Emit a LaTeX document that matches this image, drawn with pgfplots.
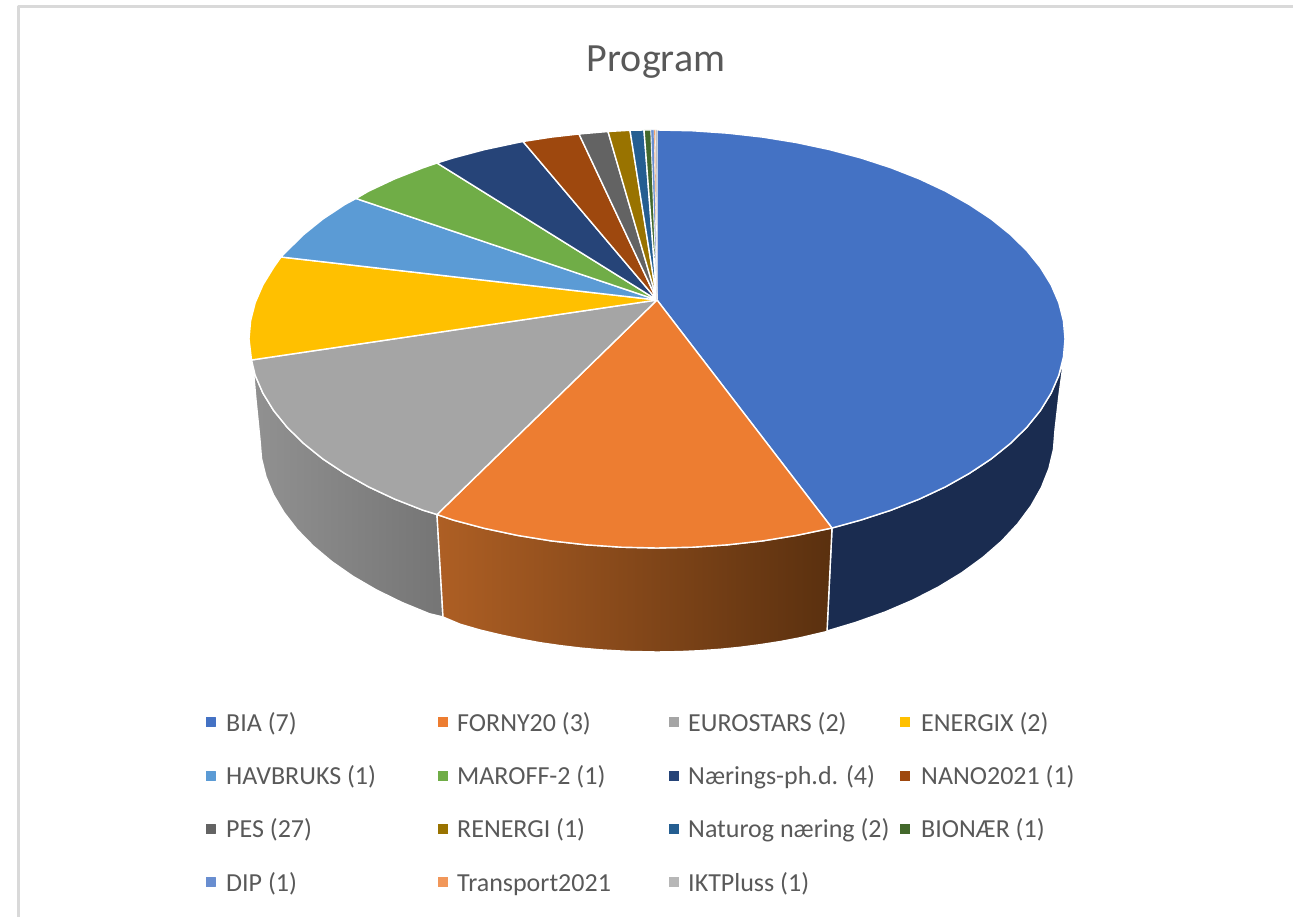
\documentclass[border=0pt]{standalone}
\usepackage{fontspec}
\setmainfont{Carlito}
\usepackage{pgfplots}
\pgfplotsset{compat=1.18}
\definecolor{cBIA}{HTML}{4472C4}
\definecolor{cFOR}{HTML}{ED7D31}
\definecolor{cEUR}{HTML}{A5A5A5}
\definecolor{cENE}{HTML}{FFC000}
\definecolor{cHAV}{HTML}{5B9BD5}
\definecolor{cMAR}{HTML}{70AD47}
\definecolor{cNAE}{HTML}{264478}
\definecolor{cNAN}{HTML}{9E480E}
\definecolor{cPES}{HTML}{636363}
\definecolor{cREN}{HTML}{997300}
\definecolor{cNAT}{HTML}{255E91}
\definecolor{cBIO}{HTML}{43682B}
\definecolor{cDIP}{HTML}{698ED0}
\definecolor{cTRA}{HTML}{F1975A}
\definecolor{cIKT}{HTML}{B7B7B7}
\definecolor{sideB}{HTML}{1A2C50}
\definecolor{sideOL}{HTML}{AE5F24}
\definecolor{sideOR}{HTML}{5A300F}
\definecolor{sideGL}{HTML}{919191}
\definecolor{sideGR}{HTML}{757575}
\definecolor{txt}{HTML}{595959}
\definecolor{framec}{HTML}{D9D9D9}
\newcommand{\lab}[3]{\node[anchor=base west,inner sep=0pt,text=txt,font=\fontsize{26}{26}\selectfont] at (axis cs:#1,#2) {#3};}
\begin{document}
\begin{tikzpicture}
\begin{axis}[
  scale only axis, width=1293pt, height=917pt,
  xmin=0, xmax=1293, ymin=0, ymax=917, y dir=reverse,
  hide axis, clip=true,
  every axis plot/.append style={line join=round},
  slice/.style={draw=white, line width=1.4pt},
  sq/.style={only marks, mark=square*, mark size=4.6pt},
]
% full page extent
\addplot[draw=none] coordinates {(0,0) (1293,917)};
% frame
\addplot[framec, line width=2.8pt] coordinates {(18.7,917) (18.7,6.5) (1293,6.5)};
% side faces
\addplot[slice, fill=sideB] coordinates {(832,528) (861,520) (891,510.2) (919.3,499.1) (945.5,486.8) (969.5,473.3) (991.2,458.9) (1010.3,443.5) (1026.8,427.3) (1040.4,410.5) (1051.1,393.1) (1058.8,375.3) (1064,358) (1059,395) (1055,430) (1053.5,449.3) (1048.9,468.6) (1041.4,487.5) (1031,505.9) (1017.7,523.8) (1001.7,541) (983,557.3) (961.9,572.7) (938.4,587) (912.8,600.1) (885.3,611.9) (856,622.3) (827,631)} --cycle;
\addplot[slice, left color=sideGL, right color=sideGR] coordinates {(437,514.5) (423,510.2) (394.7,499.1) (368.5,486.8) (344.5,473.3) (322.8,458.9) (303.7,443.5) (287.2,427.3) (273.6,410.5) (262.9,393.1) (255.2,375.3) (252.5,360) (256,400) (260,440) (261.5,458.5) (266,476.8) (273.5,494.9) (284,512.5) (297.2,529.6) (313.2,546) (331.8,561.6) (352.9,576.3) (376.3,589.9) (401.8,602.4) (429.3,613.7) (443,617)} --cycle;
\addplot[slice, left color=sideOL, right color=sideOR] coordinates {(437,514.5) (453,520) (484.6,528.4) (517.5,535.4) (551.4,540.9) (586.2,544.8) (621.4,547.2) (657,548) (692.6,547.2) (727.8,544.8) (762.6,540.9) (796.5,535.4) (832,528) (827,631.5) (800,637.8) (780,641.6) (760,644.7) (740,647.3) (720,649.3) (700,650.7) (680,651.6) (657,652) (628,651.4) (600,649.8) (580,648) (560,645.6) (540,642.7) (520,639) (500,634.8) (480,630) (460,624.2) (443,617)} --cycle;
% top faces
\addplot[slice, fill=cBIA] coordinates {(657,300) (657,130) (692.6,130.8) (727.8,133.2) (762.6,137.1) (796.5,142.6) (829.4,149.6) (861,158) (891,167.8) (919.3,178.9) (945.5,191.2) (969.5,204.7) (991.2,219.1) (1010.3,234.5) (1026.8,250.7) (1040.4,267.5) (1051.1,284.9) (1058.8,302.7) (1063.4,320.8) (1065,339) (1063.4,357.2) (1058.8,375.3) (1051.1,393.1) (1040.4,410.5) (1026.8,427.3) (1010.3,443.5) (991.2,458.9) (969.5,473.3) (945.5,486.8) (919.3,499.1) (891,510.2) (861,520) (832,528)} --cycle;
\addplot[slice, fill=cFOR] coordinates {(657,300) (832,528) (796.5,535.4) (762.6,540.9) (727.8,544.8) (692.6,547.2) (657,548) (621.4,547.2) (586.2,544.8) (551.4,540.9) (517.5,535.4) (484.6,528.4) (453,520) (437,514.5)} --cycle;
\addplot[slice, fill=cEUR] coordinates {(657,300) (437,514.5) (423,510.2) (394.7,499.1) (368.5,486.8) (344.5,473.3) (322.8,458.9) (303.7,443.5) (287.2,427.3) (273.6,410.5) (262.9,393.1) (255.2,375.3) (251.5,360)} --cycle;
\addplot[slice, fill=cENE] coordinates {(657,300) (251.5,360) (249,339) (250.6,320.8) (255.2,302.7) (262.9,284.9) (273.6,267.5) (281,257)} --cycle;
\addplot[slice, fill=cHAV] coordinates {(657,300) (281,257) (287.2,250.7) (303.7,234.5) (322.8,219.1) (344.5,204.7) (356,198.5)} --cycle;
\addplot[slice, fill=cMAR] coordinates {(657,300) (356,198.5) (368.5,191.2) (394.7,178.9) (423,167.8) (437,163)} --cycle;
\addplot[slice, fill=cNAE] coordinates {(657,300) (437,163) (453,158) (484.6,149.6) (517.5,142.6) (523,141.5)} --cycle;
\addplot[slice, fill=cNAN] coordinates {(657,300) (523,141.5) (551.4,137.1) (579,134)} --cycle;
\addplot[slice, fill=cPES] coordinates {(657,300) (579,134) (608,131.5)} --cycle;
\addplot[slice, fill=cREN] coordinates {(657,300) (608,131.5) (630,130.3)} --cycle;
\addplot[slice, fill=cNAT] coordinates {(657,300) (630,130.3) (644,130)} --cycle;
\addplot[slice, fill=cBIO] coordinates {(657,300) (644,130) (651,130)} --cycle;
\addplot[slice, line width=.3pt, fill=cDIP] coordinates {(657,300) (651,130) (654,130)} --cycle;
\addplot[slice, line width=.3pt, fill=cTRA] coordinates {(657,300) (654,130) (655.5,130)} --cycle;
\addplot[slice, line width=.3pt, fill=cIKT] coordinates {(657,300) (655.5,130) (657,130)} --cycle;
% legend markers
\addplot[sq, cBIA] coordinates {(210.5,722)};
\addplot[sq, cFOR] coordinates {(443,722)};
\addplot[sq, cEUR] coordinates {(674,722)};
\addplot[sq, cENE] coordinates {(905,722)};
\addplot[sq, cHAV] coordinates {(210.5,776)};
\addplot[sq, cMAR] coordinates {(443,776)};
\addplot[sq, cNAE] coordinates {(674,776)};
\addplot[sq, cNAN] coordinates {(905,776)};
\addplot[sq, cPES] coordinates {(210.5,829)};
\addplot[sq, cREN] coordinates {(443,829)};
\addplot[sq, cNAT] coordinates {(674,829)};
\addplot[sq, cBIO] coordinates {(905,829)};
\addplot[sq, cDIP] coordinates {(210.5,882)};
\addplot[sq, cTRA] coordinates {(443,882)};
\addplot[sq, cIKT] coordinates {(674,882)};
% legend text
\lab{226}{731}{BIA (7)}
\lab{457}{731}{FORNY20 (3)}
\lab{688}{731}{EUROSTARS (2)}
\lab{921}{731}{ENERGIX (2)}
\lab{226}{784}{HAVBRUKS (1)}
\lab{457}{784}{MAROFF-2 (1)}
\lab{688}{784}{Nærings-ph.d. (4)}
\lab{921}{784}{NANO2021 (1)}
\lab{226}{837}{PES (27)}
\lab{457}{837}{RENERGI (1)}
\lab{688}{837}{Naturog næring (2)}
\lab{921}{837}{BIONÆR (1)}
\lab{226}{891}{DIP (1)}
\lab{457}{891}{Transport2021}
\lab{688}{891}{IKTPluss (1)}
% title
\node[anchor=base,inner sep=0pt,text=txt,font=\fontsize{40}{40}\selectfont] at (axis cs:656,72) {Program};
\end{axis}
\end{tikzpicture}
\end{document}
